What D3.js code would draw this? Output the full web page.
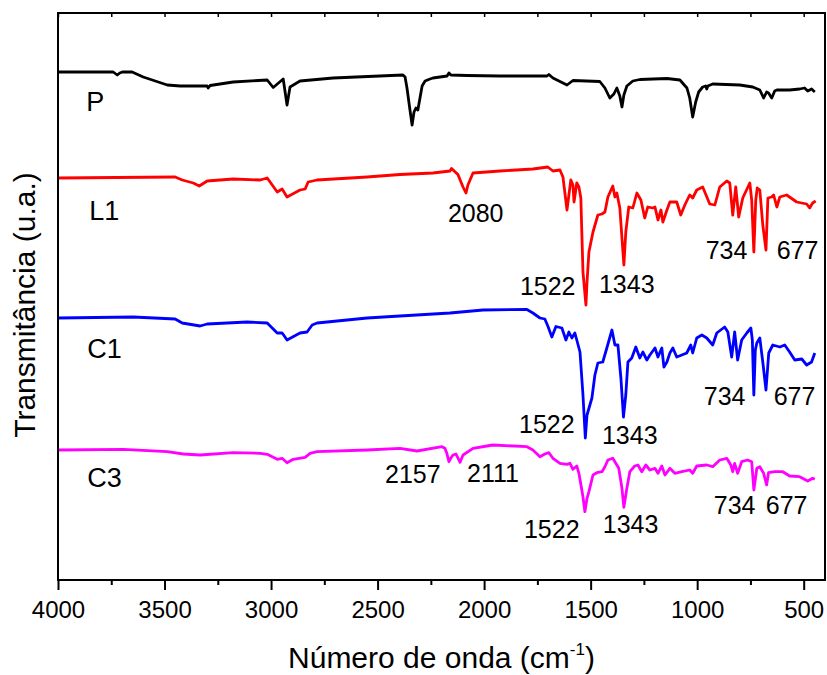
<!DOCTYPE html>
<html>
<head>
<meta charset="utf-8">
<script src="https://cdn.jsdelivr.net/npm/d3@7"></script>
<style>
body { margin: 0; background: #fff; }
svg { display: block; font-family: "Liberation Sans", Arial, sans-serif; }
</style>
</head>
<body>
<svg width="827" height="675"></svg>
<script>
var width = 827;
var height = 675;
var margin = {top: 13, right: 2, bottom: 95, left: 58};

// spectra: [wavenumber (cm-1), transmittance (u.a., offset per sample)]
var P = [[4000,508],[3741,508],[3722,505],[3710,507],[3698,508],[3652,508],[3600,503],[3487,495],[3426,494],[3300,494],[3295,492],[3286,494.5],[3178,498],[3018,500],[2990,492.5],[2943,501],[2925,475],[2911,493],[2864,499],[2709,502],[2381,505],[2371,503],[2362,492],[2348,470],[2338,455],[2329,468],[2320,472],[2311,470],[2291,494],[2277,499],[2254,501],[2240,502],[2174,504],[2165,507],[2156,505],[2080,504.5],[1926,504],[1705,504],[1696,505.5],[1677,502],[1611,495],[1583,499.5],[1457,498.5],[1433,492],[1410,482],[1391,486],[1377,492],[1363,484],[1353,473],[1344,485],[1330,494],[1302,499],[1269,500.5],[1142,501.5],[1081,500],[1048,492],[1035,482],[1021,463],[1007,478],[993,488],[974,493],[960,494],[955,491],[950,494],[927,496],[800,495],[739,493],[706,490],[688,482],[674,488],[665,487],[650,482],[636,489],[626,490],[566,490],[519,491],[496,492],[481,489],[463,491],[448,488]];

var L1 = [[4000,402],[3450,403],[3417,400],[3365,397],[3337,394],[3300,399],[3178,401],[3051,400],[3018,402],[2971,388],[2948,391],[2925,383],[2864,390],[2840,391],[2826,398],[2784,400],[2549,403],[2395,405.5],[2240,407],[2160,409],[2153,411.5],[2123,405.5],[2099,393],[2085,387],[2076,395],[2052,407],[1926,409],[1771,411],[1701,413],[1677,409],[1644,410],[1630,403],[1611,370],[1593,400],[1583,395],[1578,378],[1565,397],[1555,393],[1546,382],[1536,308],[1522,275],[1517,298],[1508,328],[1489,348],[1466,365],[1447,366],[1433,368],[1419,383],[1396,394],[1386,383],[1377,387],[1363,372],[1344,315],[1335,348],[1321,373],[1302,372],[1283,387],[1264,380],[1246,362],[1232,373],[1208,372],[1198,373],[1184,360],[1170,370],[1161,358],[1142,370],[1128,378],[1096,378],[1077,365],[1058,375],[1035,385],[1021,382],[1002,390],[974,393],[941,376],[917,375],[894,393],[861,399],[847,397],[833,365],[819,393],[805,363],[786,382],[753,397],[744,380],[734,328],[725,380],[718,392],[706,390],[692,355],[677,330],[668,382],[650,383],[641,385],[626,373],[612,383],[580,385],[533,378],[486,376],[472,372],[458,377],[444,379]];

var C1 = [[4000,262],[3647,263],[3450,261],[3417,257],[3333,254],[3300,256],[3112,258],[3018,257],[2971,247],[2948,247],[2941,245],[2925,240],[2864,247],[2831,248],[2807,255],[2784,257],[2549,262],[2395,264],[2160,267],[2005,270],[1799,270.5],[1771,267],[1738,262],[1715,261],[1701,254],[1682,243],[1663,253.5],[1635,252],[1616,240],[1602,248],[1588,242],[1574,247],[1565,240],[1550,228],[1536,185],[1525,142],[1517,165],[1494,182],[1480,205],[1466,217],[1443,218],[1424,232],[1400,250],[1386,235],[1372,235],[1358,202],[1346,163],[1335,185],[1325,218],[1307,222],[1288,233],[1269,222],[1255,228],[1236,220],[1222,225],[1198,232],[1184,223],[1166,232],[1156,213],[1142,218],[1128,227],[1114,232],[1096,223],[1072,225],[1049,227],[1030,235],[1021,227],[1002,242],[978,245],[955,242],[927,235],[908,247],[871,253],[856,248],[838,223],[824,248],[810,220],[791,240],[767,247],[748,252],[741,240],[734,185],[727,230],[720,237],[706,242],[692,218],[677,190],[664,227],[645,235],[612,233],[589,235],[566,228],[542,220],[509,221],[486,215],[463,218],[448,227]];

var C3 = [[4000,130],[3694,130.7],[3487,128.3],[3412,126],[3333,125],[3178,127.3],[3051,126.7],[3018,125.7],[2971,120.7],[2948,121.7],[2925,117.3],[2896,120.7],[2840,122.7],[2817,126.7],[2784,128.3],[2549,130],[2395,131.7],[2315,129],[2198,133.3],[2184,131.7],[2175,126.7],[2165,118.3],[2156,122],[2146,125],[2132,126],[2113,117.7],[2099,125],[2052,131.7],[1987,134],[1959,135],[1799,133.3],[1771,130],[1738,123.3],[1715,126],[1696,127.3],[1677,121.7],[1644,116.7],[1611,115.7],[1597,116.7],[1583,110.7],[1565,114],[1555,106.7],[1536,83.3],[1527,68.3],[1517,81.7],[1508,88.3],[1489,105],[1471,107.3],[1447,108.3],[1433,113.3],[1419,120],[1396,121.7],[1377,115],[1368,111.7],[1353,91.7],[1344,72.7],[1330,91.7],[1316,108.3],[1293,114],[1278,115],[1260,108.3],[1241,115],[1222,110],[1198,111.7],[1184,106.7],[1166,114],[1151,105],[1128,111.7],[1105,106.7],[1072,108.3],[1035,110],[1021,106.7],[1002,114],[955,115],[927,113.3],[894,120],[861,121.7],[842,115],[833,108.3],[824,116.7],[810,106.7],[791,118.3],[763,120],[744,118.3],[734,90],[720,111.7],[706,113.3],[688,106.7],[674,95],[665,107.3],[636,108.3],[598,108.3],[566,104],[519,103.3],[481,99],[458,101.7],[448,100.7]];

var seriesNames = ["P", "L1", "C1", "C3"];
var seriesColors = ["#000000", "#ff0000", "#0000ff", "#ff00ff"];
var seriesData = [P, L1, C1, C3];
// name label anchors [wavenumber, transmittance]
var nameAnchors = [[3867,469],[3853,360],[3863,222],[3863,93]];

// peak labels: text, wavenumber, transmittance of anchor
var peakText = ["2080","1522","1343","734","677","1522","1343","734","677","2157","2111","1522","1343","734","677"];
var peakWn = [2170,1832,1461,960,627,1836,1447,969,641,2465,2080,1813,1443,922,678];
var peakT = [358,285,287,321,321,147,136,175,175,97,98,42,47,66,66];

var majorTicks = [4000,3500,3000,2500,2000,1500,1000,500];
var minorTicks = [3750,3250,2750,2250,1750,1250,750];
var topTicks = d3.range(4000, 499, -250);

var svg = d3.select('svg');

var x = d3.scaleLinear()
        .domain([4000, 400])
        .range([margin.left, width - margin.right]);

var y = d3.scaleLinear()
        .domain([0, 567])
        .range([height - margin.bottom, margin.top]);

var line = d3.line()
        .x(d => x(d[0]))
        .y(d => y(d[1]));

seriesData.forEach((data, i) => {
  svg.append('path')
    .datum(data)
    .attr('d', line)
    .attr('fill', 'none')
    .attr('stroke', seriesColors[i])
    .attr('stroke-width', 2.8)
    .attr('stroke-linejoin', 'round');
});

// sample names
svg.selectAll('.name')
  .data(seriesNames)
  .enter()
  .append('text')
    .attr('x', (d, i) => x(nameAnchors[i][0]))
    .attr('y', (d, i) => y(nameAnchors[i][1]))
    .attr('font-size', 27)
    .text(d => d);

// band labels
svg.selectAll('.peak')
  .data(peakText)
  .enter()
  .append('text')
    .attr('x', (d, i) => x(peakWn[i]))
    .attr('y', (d, i) => y(peakT[i]))
    .attr('font-size', 25)
    .text(d => d);

// frame
svg.append('rect')
  .attr('x', x(4000))
  .attr('y', y(567))
  .attr('width', x(400) - x(4000))
  .attr('height', y(0) - y(567))
  .attr('fill', 'none')
  .attr('stroke', '#000')
  .attr('stroke-width', 2);

var xAxis = svg.append('g')
  .attr('transform', 'translate(0,' + y(0) + ')')
  .call(d3.axisBottom(x).tickValues(majorTicks).tickSize(10).tickSizeOuter(0).tickPadding(11).tickFormat(d3.format('d')));
xAxis.select('.domain').remove();
xAxis.selectAll('line').attr('stroke-width', 2);
xAxis.selectAll('text').attr('font-size', 24).attr('font-family', '"Liberation Sans", Arial, sans-serif').attr('fill', '#000');

var xMinor = svg.append('g')
  .attr('transform', 'translate(0,' + y(0) + ')')
  .call(d3.axisBottom(x).tickValues(minorTicks).tickSize(5).tickFormat(''));
xMinor.select('.domain').remove();
xMinor.selectAll('line').attr('stroke-width', 2);

var xTop = svg.append('g')
  .attr('transform', 'translate(0,' + y(567) + ')')
  .call(d3.axisTop(x).tickValues(topTicks).tickSize(-4).tickFormat(''));
xTop.select('.domain').remove();
xTop.selectAll('line').attr('stroke-width', 1.5);

// axis titles
var xTitle = svg.append('text')
  .attr('x', (x(4000) + x(400)) / 2)
  .attr('y', 668)
  .attr('text-anchor', 'middle')
  .attr('font-size', 30);
xTitle.append('tspan').text('Número de onda (cm');
xTitle.append('tspan').attr('font-size', 17).attr('dy', -13).text('-1');
xTitle.append('tspan').attr('dy', 13).text(')');

svg.append('text')
  .attr('transform', 'translate(35,305) rotate(-90)')
  .attr('text-anchor', 'middle')
  .attr('font-size', 30)
  .text('Transmitância (u.a.)');
</script>
</body>
</html>
